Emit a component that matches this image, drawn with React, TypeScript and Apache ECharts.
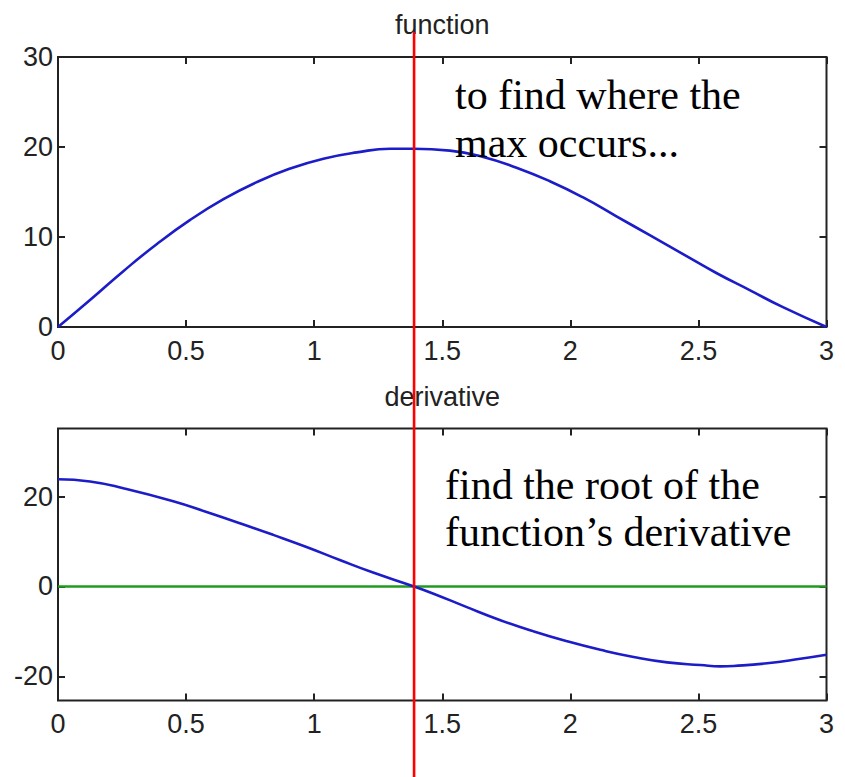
import React, { useEffect, useRef } from "react";
import * as echarts from "echarts";

// ---- data ----
const fnX = [0, 0.125, 0.255, 0.385, 0.516, 0.646, 0.776, 0.906, 1.036, 1.167, 1.297, 1.387, 1.53, 1.66, 1.79, 1.92, 2.05, 2.18, 2.31, 2.44, 2.57, 2.7, 2.83, 3.0];
const fnY = [0, 3.0, 6.2, 9.2, 11.9, 14.2, 16.1, 17.6, 18.7, 19.4, 19.8, 19.8, 19.6, 18.9, 17.7, 16.2, 14.4, 12.3, 10.2, 8.1, 6.0, 4.1, 2.2, 0];

const derivX = [0, 0.125, 0.255, 0.45, 0.58, 0.71, 0.84, 0.97, 1.1, 1.23, 1.39, 1.466, 1.596, 1.727, 1.857, 1.987, 2.117, 2.247, 2.378, 2.508, 2.586, 2.638, 2.768, 2.898, 3.0];
const derivY = [23.9, 23.4, 21.9, 19.0, 16.6, 14.1, 11.5, 8.8, 5.9, 3.1, 0, -1.6, -4.6, -7.5, -10.0, -12.2, -14.1, -15.7, -16.9, -17.5, -17.8, -17.7, -17.1, -16.1, -15.2];

const zeroLineX = [0, 3];
const zeroLineY = [0, 0];

const rootX = 1.39;

const xRange = [0, 3];
const xInterval = 0.5;
const topYRange = [0, 30];
const topYInterval = 10;
const bottomYRange = [-25.4, 35.2];
const bottomYTicks = [-20, 0, 20];

const titles = ["function", "derivative"];
const noteTop = ["to find where the", "max occurs..."];
const noteBottom = ["find the root of the", "function\u2019s derivative"];

const SANS = '"Liberation Sans", Arial, Helvetica, sans-serif';
const SERIF = '"Liberation Serif", "Times New Roman", Times, serif';
const AXIS_COLOR = "#222";

const zip = (xs: number[], ys: number[]) => xs.map((x, i) => [x, ys[i]]);

function xAxisDef(gridIndex: number, position: "top" | "bottom", showLabel: boolean) {
  return {
    type: "value",
    gridIndex,
    position,
    min: xRange[0],
    max: xRange[1],
    interval: xInterval,
    axisLine: { show: false, onZero: false },
    axisTick: { show: true, inside: true, length: 7, lineStyle: { color: AXIS_COLOR, width: 2 } },
    axisLabel: { show: showLabel, fontSize: 27, color: AXIS_COLOR, fontFamily: SANS, margin: 10 },
    splitLine: { show: false },
  };
}

function yAxisDef(gridIndex: number, position: "left" | "right", showLabel: boolean, top: boolean) {
  const base: any = {
    type: "value",
    gridIndex,
    position,
    axisLine: { show: false, onZero: false },
    axisTick: { show: true, inside: true, length: 7, lineStyle: { color: AXIS_COLOR, width: 2 } },
    axisLabel: { show: showLabel, fontSize: 27, color: AXIS_COLOR, fontFamily: SANS, margin: 5 },
    splitLine: { show: false },
  };
  if (top) {
    base.min = topYRange[0];
    base.max = topYRange[1];
    base.interval = topYInterval;
  } else {
    base.min = bottomYRange[0];
    base.max = bottomYRange[1];
    base.axisTick.customValues = bottomYTicks;
    base.axisLabel.customValues = bottomYTicks;
  }
  return base;
}

export default function App() {
  const ref = useRef<HTMLDivElement>(null);

  useEffect(() => {
    if (!ref.current) return;
    const chart = echarts.init(ref.current, null, { renderer: "svg" });

    const gridCommon = { show: true, borderColor: AXIS_COLOR, borderWidth: 2, backgroundColor: "transparent" };

    chart.setOption({
      animation: false,
      backgroundColor: "#ffffff",
      grid: [
        { ...gridCommon, left: 58, top: 57, width: 768.5, height: 270 },
        { ...gridCommon, left: 58, top: 428.5, width: 768.5, height: 272 },
      ],
      xAxis: [
        xAxisDef(0, "bottom", true),
        xAxisDef(0, "top", false),
        xAxisDef(1, "bottom", true),
        xAxisDef(1, "top", false),
      ],
      yAxis: [
        yAxisDef(0, "left", true, true),
        yAxisDef(0, "right", false, true),
        yAxisDef(1, "left", true, false),
        yAxisDef(1, "right", false, false),
      ],
      series: [
        {
          type: "line",
          xAxisIndex: 0,
          yAxisIndex: 0,
          data: zip(fnX, fnY),
          showSymbol: false,
          smooth: 0.5,
          lineStyle: { color: "#1c1cc8", width: 2.6 },
          z: 3,
        },
        {
          type: "line",
          xAxisIndex: 2,
          yAxisIndex: 2,
          data: zip(zeroLineX, zeroLineY),
          showSymbol: false,
          lineStyle: { color: "#229a22", width: 2.6 },
          z: 2,
        },
        {
          type: "line",
          xAxisIndex: 2,
          yAxisIndex: 2,
          data: zip(derivX, derivY),
          showSymbol: false,
          smooth: 0.5,
          lineStyle: { color: "#1c1cc8", width: 2.6 },
          z: 3,
        },
      ],
    });

    const redX = chart.convertToPixel({ xAxisIndex: 0 }, rootX) as number;
    const titleX = chart.convertToPixel({ xAxisIndex: 0 }, (xRange[0] + xRange[1]) / 2) as number;

    const textEl = (text: string, x: number, y: number, font: string, color: string, align: string) => ({
      type: "text",
      x,
      y,
      z: 50,
      style: {
        text,
        fill: color,
        font,
        align,
        textAlign: align,
        verticalAlign: "middle",
        textVerticalAlign: "middle",
      },
    });

    chart.setOption({
      graphic: [
        textEl(titles[0], titleX, 25, `27px ${SANS}`, "#222", "center"),
        textEl(titles[1], titleX, 396.5, `27px ${SANS}`, "#222", "center"),
        textEl(noteTop[0], 455, 95, `42px ${SERIF}`, "#000", "left"),
        textEl(noteTop[1], 455, 143, `42px ${SERIF}`, "#000", "left"),
        textEl(noteBottom[0], 445, 484.5, `42px ${SERIF}`, "#000", "left"),
        textEl(noteBottom[1], 445, 531.5, `42px ${SERIF}`, "#000", "left"),
        {
          type: "line",
          z: 100,
          shape: { x1: redX, y1: 32, x2: redX, y2: 777 },
          style: { stroke: "#ff0000", lineWidth: 2.6 },
        },
      ],
    });

    return () => {
      chart.dispose();
    };
  }, []);

  return (
    <div
      ref={ref}
      style={{ position: "fixed", left: 0, top: 0, width: 845, height: 777, background: "#fff" }}
    />
  );
}
